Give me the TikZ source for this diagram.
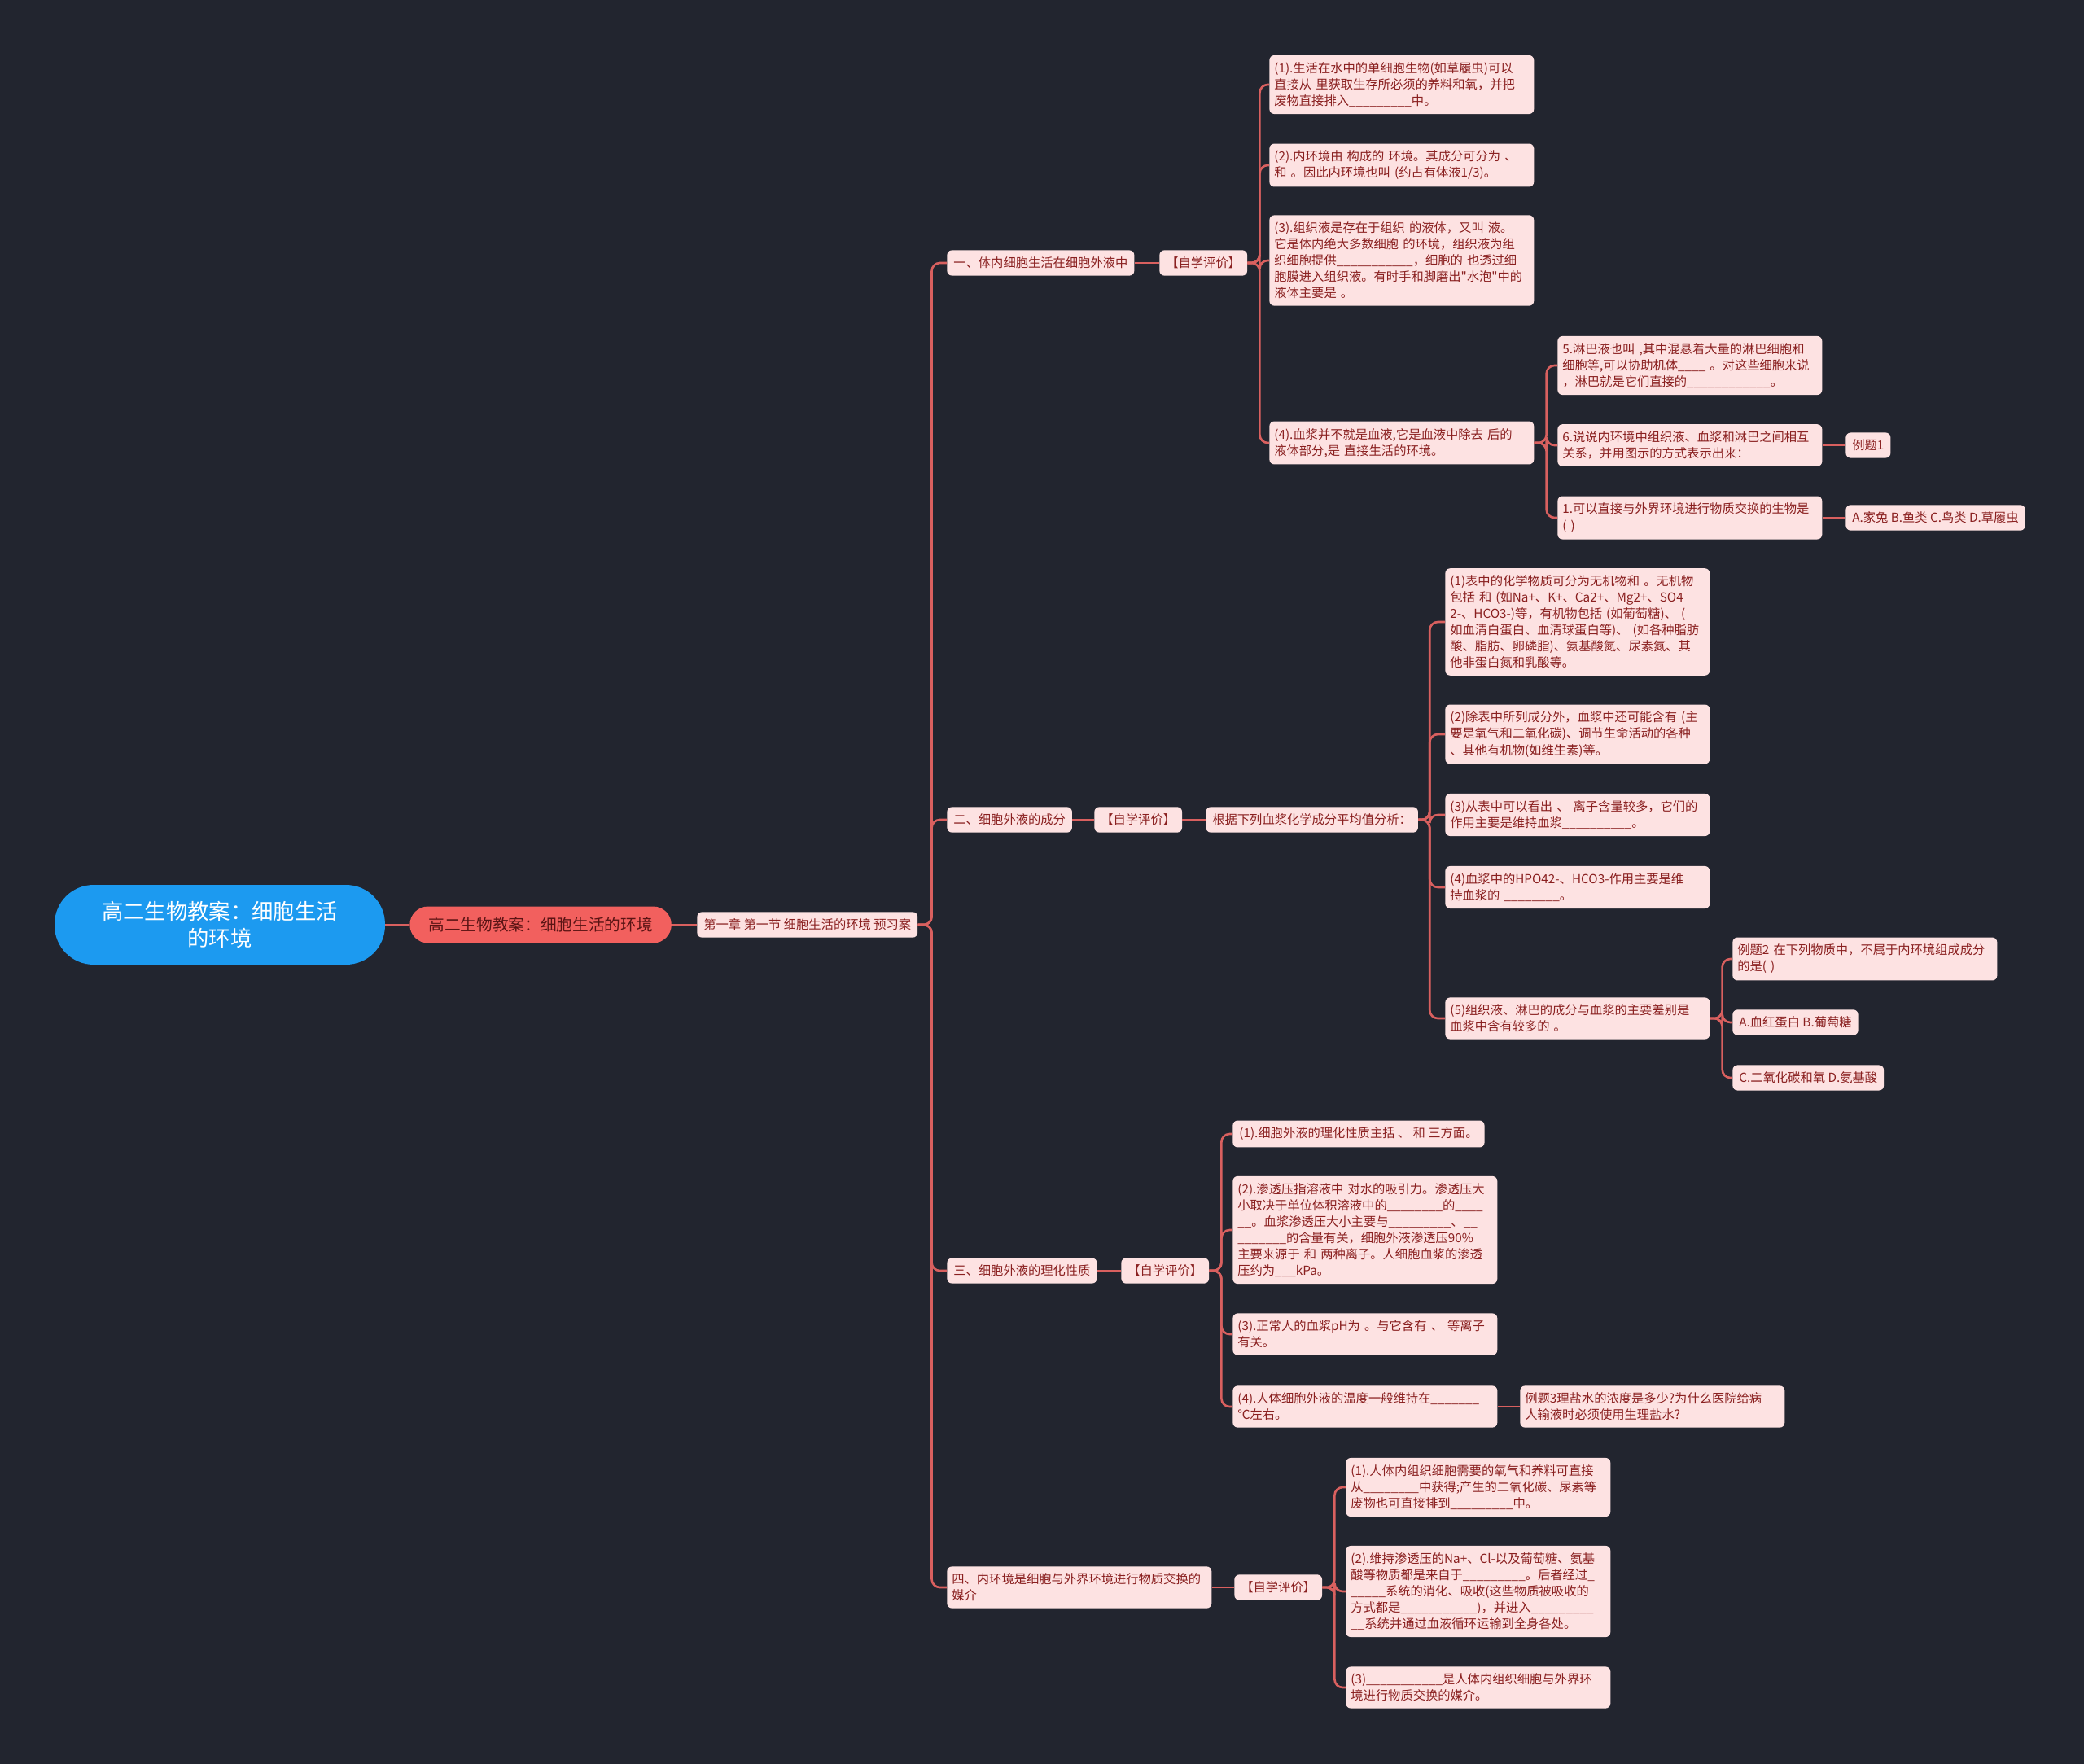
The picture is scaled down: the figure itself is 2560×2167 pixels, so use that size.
\documentclass[tikz,border=0pt]{standalone}
\usepackage{fontspec}
\setmainfont{Noto Sans CJK SC}[Ligatures=TeXOff]
\definecolor{bg}{HTML}{22252F}
\definecolor{boxbg}{HTML}{FDE2E2}
\definecolor{boxtx}{HTML}{8A2020}
\definecolor{linkc}{HTML}{D9605F}
\definecolor{rootc}{HTML}{1C9AF0}
\definecolor{lonec}{HTML}{F2605E}
\definecolor{lonetx}{HTML}{5A1414}
\newcommand{\gap}[1]{\foreach \n in {1,...,#1}{\_}}
\tikzset{
  box/.style={fill=boxbg, text=boxtx, rounded corners=0.12cm, inner xsep=0.16cm, inner ysep=0.17cm,
    anchor=west, align=left, font=\fontsize{8.7}{11.4}\selectfont},
  para/.style={box, inner xsep=0.12cm, text width=6.26cm},
  root/.style={fill=rootc, text=white, rounded corners=0.96cm, minimum width=8.12cm, minimum height=1.96cm,
    align=center, font=\fontsize{15}{18.8}\selectfont},
  lone/.style={fill=lonec, text=lonetx, rounded corners=0.45cm, minimum height=0.9cm, inner xsep=0.46cm,
    anchor=west, font=\fontsize{11.2}{13}\selectfont},
  link/.style={draw=linkc, line width=1.5pt, rounded corners=0.2cm}
}
\begin{document}
\begin{tikzpicture}[x=0.02cm, y=-0.02cm]
      \fill[bg] (0,0) rectangle (2560,2167);

      \node[root] (R) at (270,1136) {高二生物教案：细胞生活\\的环境};
      \node[lone] (L) at (503,1136) {高二生物教案：细胞生活的环境};
      \node[box] (T) at (856,1136) {第一章 第一节 细胞生活的环境 预习案};

      \node[box] (A) at (1163,323) {一、体内细胞生活在细胞外液中};
      \node[box] (AE) at (1424,323) {【自学评价】};
      \node[para] (A1) at (1559,104) {(1).生活在水中的单细胞生物(如草履虫)可以\\直接从 里获取生存所必须的养料和氧，并把\\废物直接排入\gap{9}中。};
      \node[para] (A2) at (1559,203) {(2).内环境由 构成的 环境。其成分可分为 、\\和 。因此内环境也叫 (约占有体液1/3)。};
      \node[para] (A3) at (1559,320) {(3).组织液是存在于组织 的液体，又叫 液。\\它是体内绝大多数细胞 的环境，组织液为组\\织细胞提供\gap{11}，细胞的 也透过细\\胞膜进入组织液。有时手和脚磨出"水泡"中的\\液体主要是 。};
      \node[para] (A4) at (1559,544) {(4).血浆并不就是血液,它是血液中除去 后的\\液体部分,是 直接生活的环境。};
      \node[para] (A5) at (1913,449) {5.淋巴液也叫 ,其中混悬着大量的淋巴细胞和\\细胞等,可以协助机体\gap{4} 。对这些细胞来说\\，淋巴就是它们直接的\gap{12}。};
      \node[para] (A6) at (1913,547) {6.说说内环境中组织液、血浆和淋巴之间相互\\关系，并用图示的方式表示出来：};
      \node[para] (A7) at (1913,636) {1.可以直接与外界环境进行物质交换的生物是\\( )};
      \node[box] (A6a) at (2267,547) {例题1};
      \node[box] (A7a) at (2267,636) {A.家兔 B.鱼类 C.鸟类 D.草履虫};

      \node[box] (B) at (1163,1007) {二、细胞外液的成分};
      \node[box] (BE) at (1344,1007) {【自学评价】};
      \node[box] (BG) at (1481,1007) {根据下列血浆化学成分平均值分析：};
      \node[para] (B1) at (1775,764) {(1)表中的化学物质可分为无机物和 。无机物\\包括 和 (如Na+、K+、Ca2+、Mg2+、SO4\\2-、HCO3-)等，有机物包括 (如葡萄糖)、 (\\如血清白蛋白、血清球蛋白等)、 (如各种脂肪\\酸、脂肪、卵磷脂)、氨基酸氮、尿素氮、其\\他非蛋白氮和乳酸等。};
      \node[para] (B2) at (1775,902) {(2)除表中所列成分外，血浆中还可能含有 (主\\要是氧气和二氧化碳)、调节生命活动的各种\\、其他有机物(如维生素)等。};
      \node[para] (B3) at (1775,1001) {(3)从表中可以看出 、 离子含量较多，它们的\\作用主要是维持血浆\gap{10}。};
      \node[para] (B4) at (1775,1090) {(4)血浆中的HPO42-、HCO3-作用主要是维\\持血浆的 \gap{8}。};
      \node[para] (B5) at (1775,1251) {(5)组织液、淋巴的成分与血浆的主要差别是\\血浆中含有较多的 。};
      \node[para] (B5a) at (2128,1178) {例题2 在下列物质中，不属于内环境组成成分\\的是( )};
      \node[box] (B5b) at (2128,1256) {A.血红蛋白 B.葡萄糖};
      \node[box] (B5c) at (2128,1324) {C.二氧化碳和氧 D.氨基酸};

      \node[box] (C) at (1163,1561) {三、细胞外液的理化性质};
      \node[box] (CE) at (1377,1561) {【自学评价】};
      \node[box] (C1) at (1514,1393) {(1).细胞外液的理化性质主括 、 和 三方面。};
      \node[para] (C2) at (1514,1511) {(2).渗透压指溶液中 对水的吸引力。渗透压大\\小取决于单位体积溶液中的\gap{8}的\gap{4}\\\gap{2}。血浆渗透压大小主要与\gap{9}、\gap{2}\\\gap{7}的含量有关，细胞外液渗透压90\%\\主要来源于 和 两种离子。人细胞血浆的渗透\\压约为\gap{3}kPa。};
      \node[para] (C3) at (1514,1639) {(3).正常人的血浆pH为 。与它含有 、 等离子\\有关。};
      \node[para] (C4) at (1514,1728) {(4).人体细胞外液的温度一般维持在\gap{7}\\℃左右。};
      \node[para] (C4a) at (1867,1728) {例题3理盐水的浓度是多少?为什么医院给病\\人输液时必须使用生理盐水?};

      \node[para] (D) at (1163,1950) {四、内环境是细胞与外界环境进行物质交换的\\媒介};
      \node[box] (DE) at (1516,1950) {【自学评价】};
      \node[para] (D1) at (1653,1827) {(1).人体内组织细胞需要的氧气和养料可直接\\从\gap{8}中获得;产生的二氧化碳、尿素等\\废物也可直接排到\gap{9}中。};
      \node[para] (D2) at (1653,1955) {(2).维持渗透压的Na+、Cl-以及葡萄糖、氨基\\酸等物质都是来自于\gap{9}。后者经过\gap{1}\\\gap{5}系统的消化、吸收(这些物质被吸收的\\方式都是\gap{11})，并进入\gap{9}\\\gap{2}系统并通过血液循环运输到全身各处。};
      \node[para] (D3) at (1653,2073) {(3)\gap{11}是人体内组织细胞与外界环\\境进行物质交换的媒介。};

      \draw[link] (R.east) -- (L.west);
      \draw[link] (L.east) -- (T.west);
      \draw[link] (T.east) -- ++(17,0) |- (A.west);
      \draw[link] (T.east) -- ++(17,0) |- (B.west);
      \draw[link] (T.east) -- ++(17,0) |- (C.west);
      \draw[link] (T.east) -- ++(17,0) |- (D.west);

      \draw[link] (A.east) -- (AE.west);
      \draw[link] (AE.east) -- ++(15,0) |- (A1.west);
      \draw[link] (AE.east) -- ++(15,0) |- (A2.west);
      \draw[link] (AE.east) -- ++(15,0) |- (A3.west);
      \draw[link] (AE.east) -- ++(15,0) |- (A4.west);
      \draw[link] (A4.east) -- ++(15,0) |- (A5.west);
      \draw[link] (A4.east) -- ++(15,0) |- (A6.west);
      \draw[link] (A4.east) -- ++(15,0) |- (A7.west);
      \draw[link] (A6.east) -- (A6a.west);
      \draw[link] (A7.east) -- (A7a.west);

      \draw[link] (B.east) -- (BE.west);
      \draw[link] (BE.east) -- (BG.west);
      \draw[link] (BG.east) -- ++(14,0) |- (B1.west);
      \draw[link] (BG.east) -- ++(14,0) |- (B2.west);
      \draw[link] (BG.east) -- ++(14,0) |- (B3.west);
      \draw[link] (BG.east) -- ++(14,0) |- (B4.west);
      \draw[link] (BG.east) -- ++(14,0) |- (B5.west);
      \draw[link] (B5.east) -- ++(15,0) |- (B5a.west);
      \draw[link] (B5.east) -- ++(15,0) |- (B5b.west);
      \draw[link] (B5.east) -- ++(15,0) |- (B5c.west);

      \draw[link] (C.east) -- (CE.west);
      \draw[link] (CE.east) -- ++(15,0) |- (C1.west);
      \draw[link] (CE.east) -- ++(15,0) |- (C2.west);
      \draw[link] (CE.east) -- ++(15,0) |- (C3.west);
      \draw[link] (CE.east) -- ++(15,0) |- (C4.west);
      \draw[link] (C4.east) -- (C4a.west);

      \draw[link] (D.east) -- (DE.west);
      \draw[link] (DE.east) -- ++(15,0) |- (D1.west);
      \draw[link] (DE.east) -- ++(15,0) |- (D2.west);
      \draw[link] (DE.east) -- ++(15,0) |- (D3.west);
\end{tikzpicture}
\end{document}
